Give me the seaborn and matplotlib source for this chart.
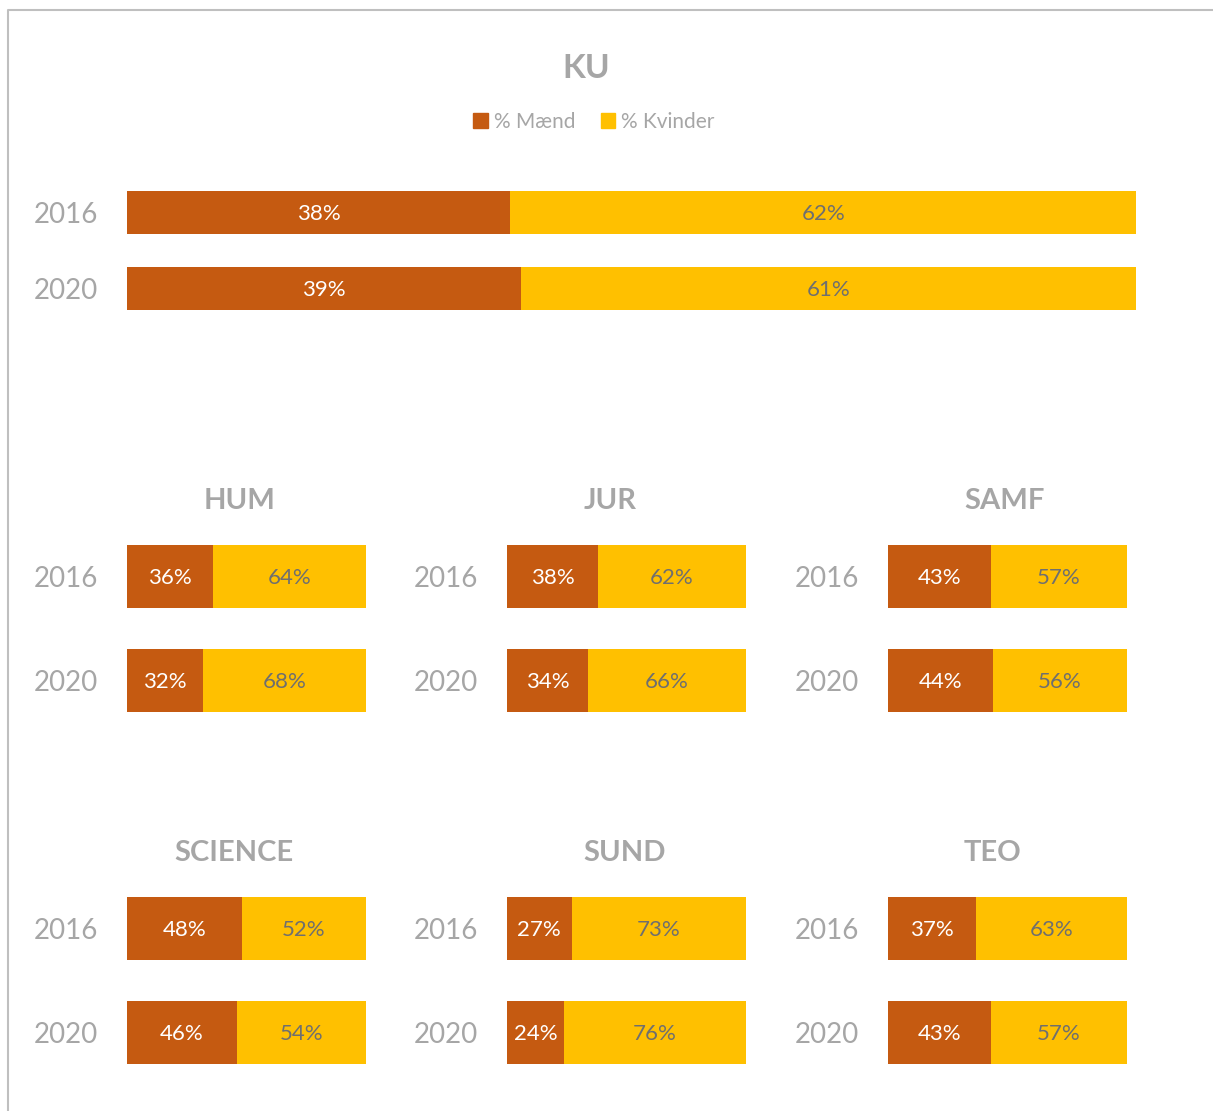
import matplotlib
matplotlib.use("Agg")
import matplotlib.pyplot as plt
import seaborn as sns
from matplotlib.patches import Patch
from matplotlib.lines import Line2D

# andel mænd / kvinder i procent
years = ["2016", "2020"]
ku_maend = [38, 39]
ku_kvinder = [62, 61]

fakulteter = ["HUM", "JUR", "SAMF", "SCIENCE", "SUND", "TEO"]
fak_maend = {
    "HUM": [36, 32],
    "JUR": [38, 34],
    "SAMF": [43, 44],
    "SCIENCE": [48, 46],
    "SUND": [27, 24],
    "TEO": [37, 43],
}
fak_kvinder = {
    "HUM": [64, 68],
    "JUR": [62, 66],
    "SAMF": [57, 56],
    "SCIENCE": [52, 54],
    "SUND": [73, 76],
    "TEO": [63, 57],
}

c_maend = "#C55A11"
c_kvinder = "#FFC000"
grey = "#A6A6A6"
dark = "#6F6F6F"

sns.set_theme(style="white")
plt.rcParams["font.family"] = ["Lato", "DejaVu Sans"]

W, H = 1213, 1111
fig = plt.figure(figsize=(W / 100, H / 100), dpi=100)


def stacked(ax, maend, kvinder, bar_w, fs):
    tot = [m + k for m, k in zip(maend, kvinder)]
    sns.barplot(x=tot, y=years, orient="h", color=c_kvinder, width=bar_w,
                linewidth=0, saturation=1, ax=ax)
    sns.barplot(x=maend, y=years, orient="h", color=c_maend, width=bar_w,
                linewidth=0, saturation=1, ax=ax)
    for i, (m, k) in enumerate(zip(maend, kvinder)):
        ax.text(m / 2, i, f"{m}%", ha="center", va="center_baseline", color="white", fontsize=fs)
        ax.text(m + k / 2, i, f"{k}%", ha="center", va="center_baseline", color=dark, fontsize=fs)
    ax.set_xlim(0, 100)
    ax.set_ylim(1.5, -0.5)
    ax.set_xlabel("")
    ax.set_ylabel("")
    ax.set_xticks([])
    ax.tick_params(axis="y", length=0, pad=21, labelsize=20, labelcolor=grey)
    sns.despine(ax=ax, left=True, bottom=True)


def box(x0, y_top, w, h):
    return [x0 / W, 1 - (y_top + h) / H, w / W, h / H]


# KU samlet
ax_ku = fig.add_axes(box(127, 174.5, 1009, 152))
stacked(ax_ku, ku_maend, ku_kvinder, 43 / 76, 16)
fig.text(586 / W, 1 - 68 / H, "KU", ha="center", va="center",
         fontsize=24, fontweight="bold", color=grey)

# fakulteter
lefts = [127, 507, 888]
tops = [524.5, 876.5]
title_x = [240, 610, 1005, 234, 625, 992]
title_y = [501, 853]
for n, fak in enumerate(fakulteter):
    r, c = divmod(n, 3)
    ax = fig.add_axes(box(lefts[c], tops[r], 239, 208))
    stacked(ax, fak_maend[fak], fak_kvinder[fak], 63 / 104, 16)
    fig.text(title_x[n] / W, 1 - title_y[r] / H, fak, ha="center", va="center",
             fontsize=21, fontweight="bold", color=grey)

handles = [Patch(color=c_maend, label="% Mænd"), Patch(color=c_kvinder, label="% Kvinder")]
fig.legend(handles=handles, loc="center", bbox_to_anchor=(594 / W, 1 - 122 / H),
           ncol=2, frameon=False, fontsize=15, labelcolor=grey,
           handlelength=0.7, handleheight=0.7, handletextpad=0.3, columnspacing=1.2)

# ramme (kun top og venstre synlig)
fig.add_artist(Line2D([8 / W, 8 / W, 1.0], [0.0, 1 - 10 / H, 1 - 10 / H],
                      transform=fig.transFigure, color="#BFBFBF", lw=1.5))

fig.savefig("out.png", dpi=100)
